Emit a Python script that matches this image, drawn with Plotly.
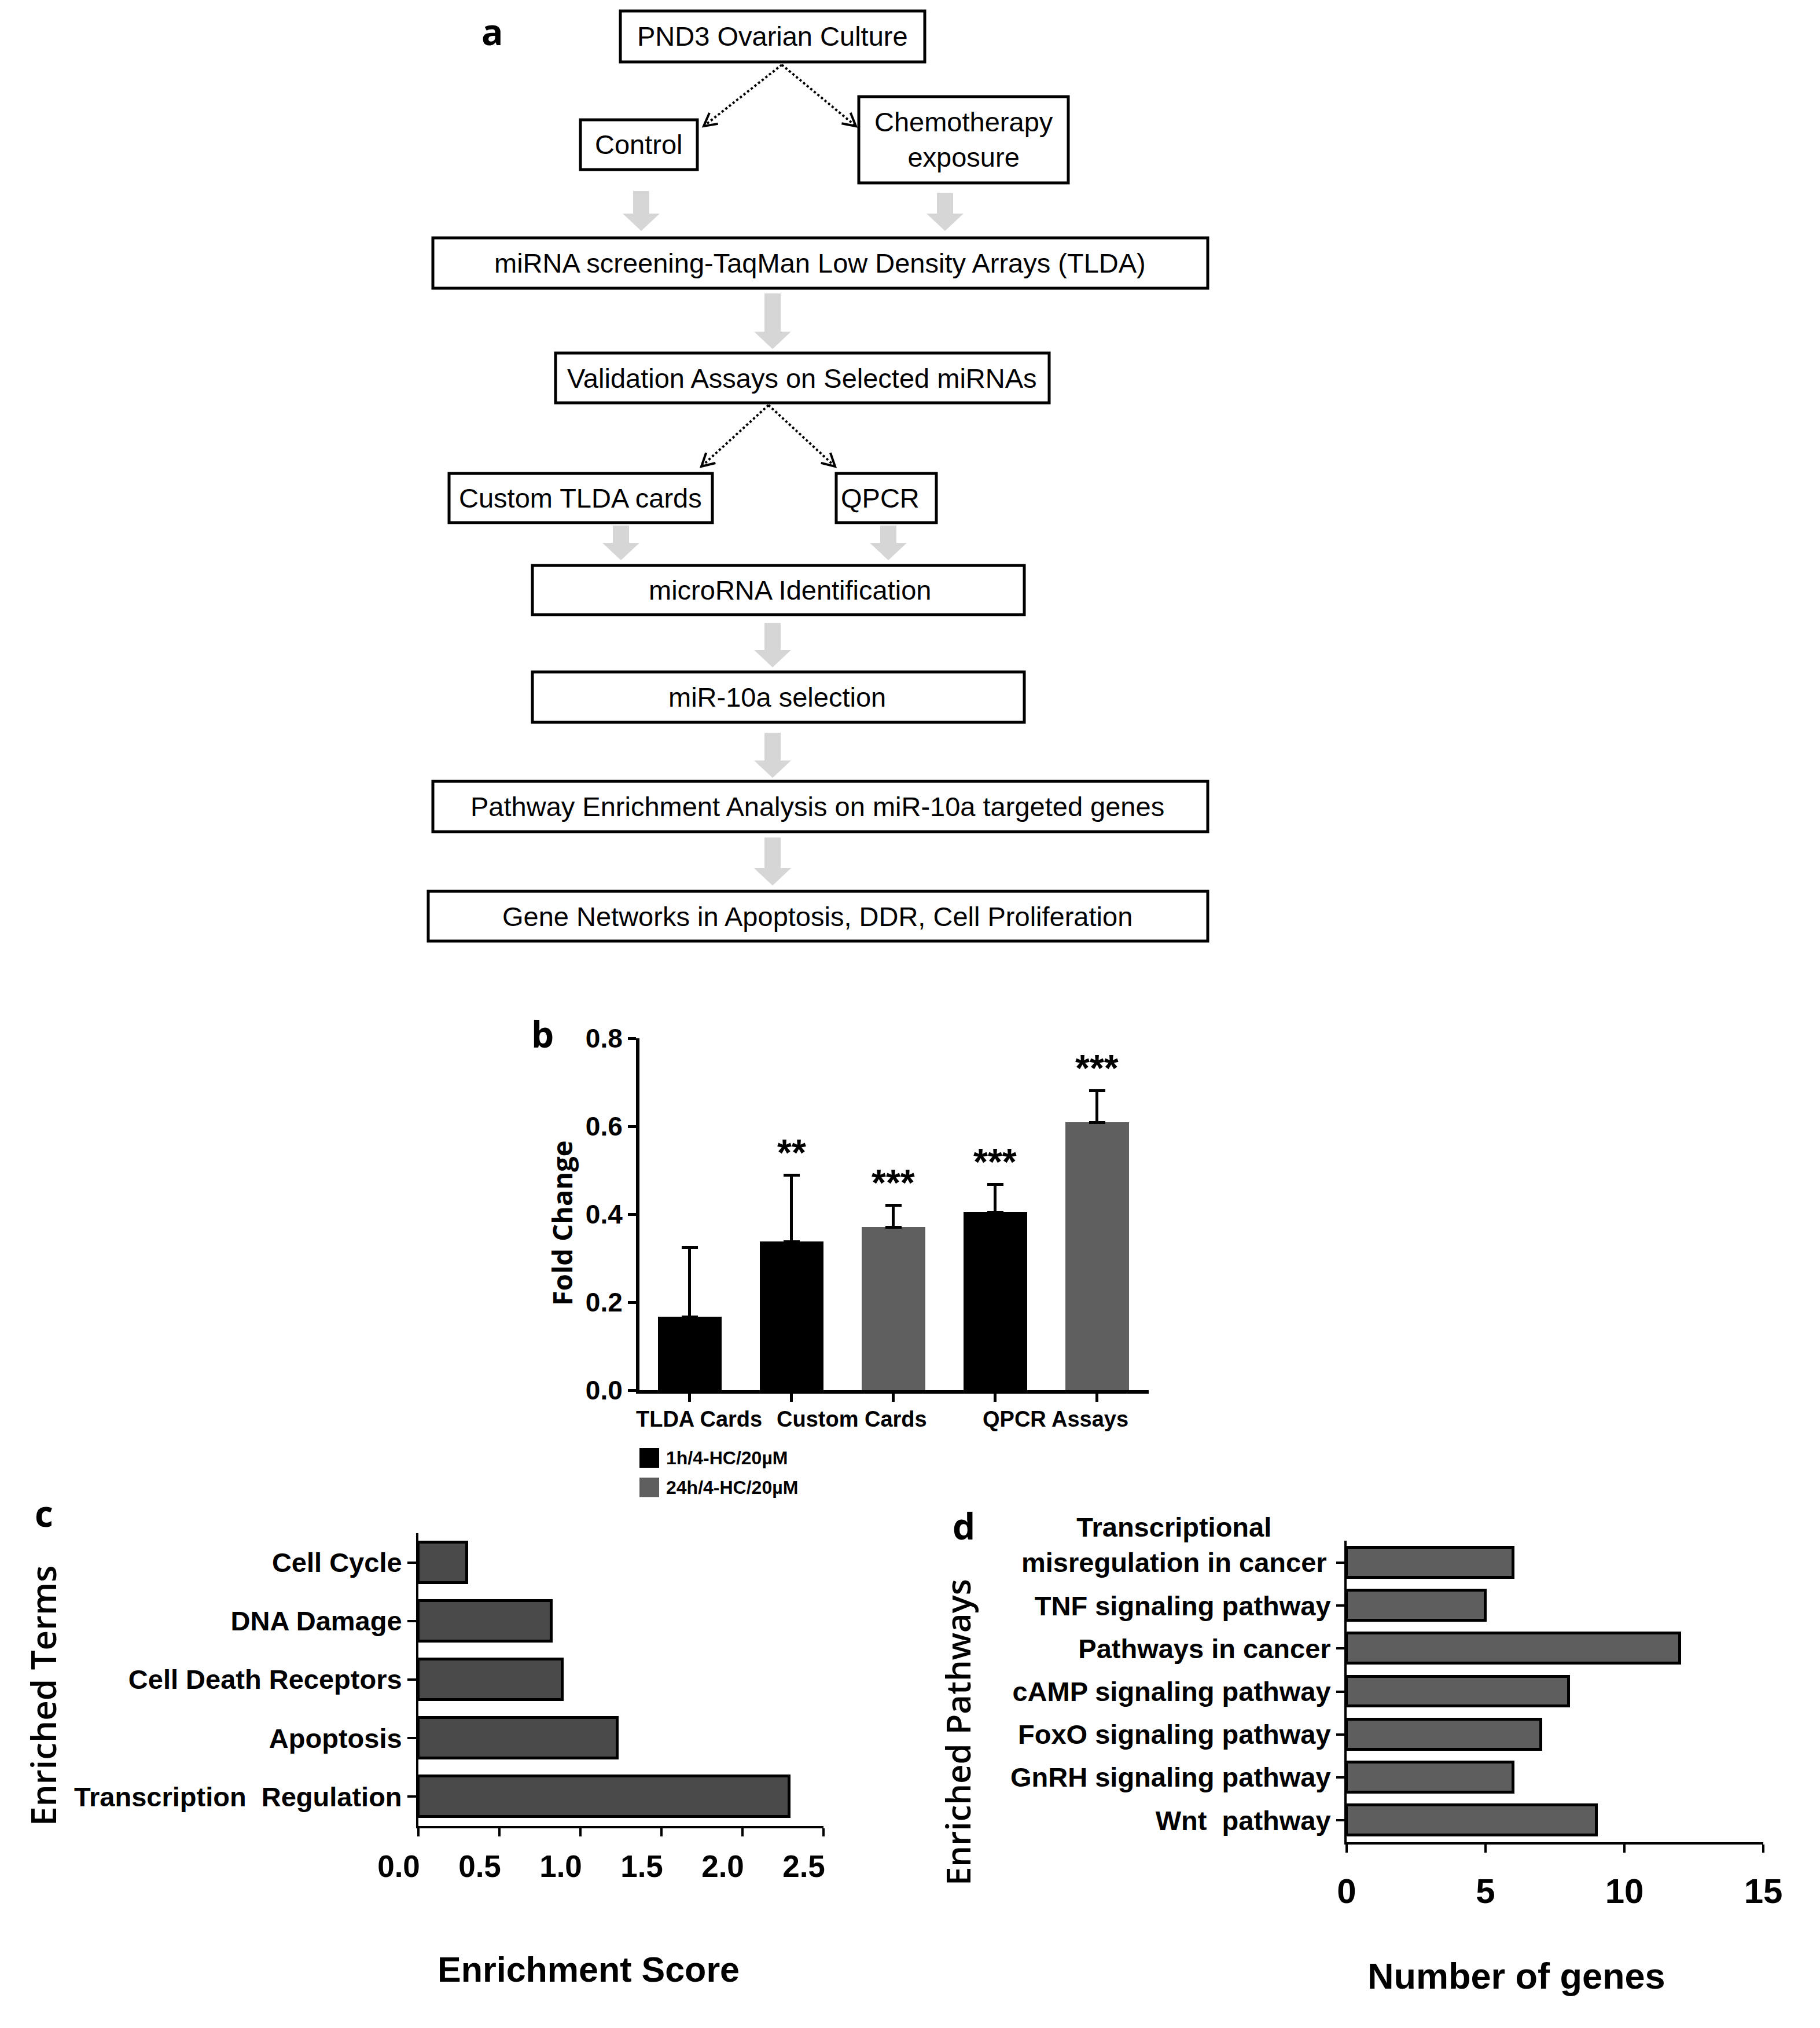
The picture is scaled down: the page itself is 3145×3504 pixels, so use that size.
import math
import plotly.graph_objects as go

W, H = 3145, 3504
OFF = 8  # the page body adds an 8px margin around the figure

# ---------------- data ----------------
b_series_names = ["1h/4-HC/20µM", "24h/4-HC/20µM"]
b_series_colors = ["#000000", "#5f5f5f"]
b_bar_groups = ["TLDA Cards", "Custom Cards", "Custom Cards", "QPCR Assays", "QPCR Assays"]
b_bar_series = [0, 0, 1, 0, 1]
b_fold_change = [0.167, 0.338, 0.371, 0.405, 0.609]
b_error_up = [0.157, 0.151, 0.050, 0.063, 0.072]
b_significance = ["", "**", "***", "***", "***"]
b_y_ticks = [0.0, 0.2, 0.4, 0.6, 0.8]

c_terms = ["Transcription\u00a0 Regulation", "Apoptosis", "Cell Death Receptors", "DNA Damage", "Cell Cycle"]
c_scores = [2.29, 1.23, 0.89, 0.82, 0.30]
c_x_ticks = [0.0, 0.5, 1.0, 1.5, 2.0, 2.5]

d_pathways = ["Wnt\u00a0 pathway", "GnRH signaling pathway", "FoxO signaling pathway",
              "cAMP signaling pathway", "Pathways in cancer", "TNF signaling pathway",
              "Transcriptional<br>misregulation in cancer"]
d_genes = [9, 6, 7, 8, 12, 5, 6]
d_x_ticks = [0, 5, 10, 15]

flow_boxes = [
    "PND3 Ovarian Culture", "Control", "Chemotherapy<br>exposure",
    "miRNA screening-TaqMan Low Density Arrays (TLDA)",
    "Validation Assays on Selected miRNAs", "Custom TLDA cards", "QPCR",
    "microRNA Identification", "miR-10a selection",
    "Pathway Enrichment Analysis on miR-10a targeted genes",
    "Gene Networks in Apoptosis, DDR, Cell Proliferation",
]

# ---------------- helpers ----------------
NARROW = "Liberation Sans Narrow, Liberation Sans, Arial"
SANS = "Liberation Sans, Arial"
OPEN = "Open Sans, Liberation Sans"


def X(px):
    return (px - OFF) / W


def Y(py):
    return 1 - (py - OFF) / H


shapes = []
annotations = []


def text(t, px, py, size, family=NARROW, weight="normal", angle=0, xanchor="center", yanchor="middle", align="center"):
    annotations.append(dict(text=t, x=X(px), y=Y(py), xref="paper", yref="paper", showarrow=False,
                            xanchor=xanchor, yanchor=yanchor, align=align, textangle=angle,
                            font=dict(family=family, size=size, color="black", weight=weight)))


# ---------------- panel a: flowchart ----------------
box_geom = [
    (1072, 19, 1598, 107, 1335),
    (1003, 207, 1205, 293, 1104),
    (1484, 167, 1846, 316, 1665),
    (748, 411, 2087, 498, 1417),
    (960, 610, 1813, 696, 1386),
    (776, 818, 1231, 903, 1003),
    (1445, 818, 1618, 903, 1521),
    (920, 977, 1770, 1062, 1365),
    (920, 1161, 1770, 1248, 1343),
    (748, 1350, 2087, 1437, 1412),
    (740, 1540, 2087, 1626, 1412),
]
for label, (x0, y0, x1, y1, tx) in zip(flow_boxes, box_geom):
    shapes.append(dict(type="rect", xref="paper", yref="paper", x0=X(x0), x1=X(x1), y0=Y(y0), y1=Y(y1),
                       line=dict(color="black", width=5), fillcolor="white", layer="above"))
    text(label, tx, (y0 + y1) / 2, 47)

# gray block arrows
block_arrows = [(1108, 330, 399), (1633, 333, 399), (1335, 507, 603), (1073, 908, 968), (1535, 908, 968),
                (1335, 1076, 1153), (1335, 1266, 1344), (1335, 1447, 1530)]
for cx, y0, y1 in block_arrows:
    sw, hw, hl = 14, 32, 30
    pts = [(cx - sw, y0), (cx + sw, y0), (cx + sw, y1 - hl), (cx + hw, y1 - hl), (cx, y1),
           (cx - hw, y1 - hl), (cx - sw, y1 - hl)]
    path = "M " + " L ".join(f"{X(a):.5f},{Y(b):.5f}" for a, b in pts) + " Z"
    shapes.append(dict(type="path", xref="paper", yref="paper", path=path, fillcolor="#d6d6d6",
                       line=dict(width=0)))

# dotted arrows
dotted = [((1351, 112), (1216, 218)), ((1351, 112), (1479, 218)),
          ((1328, 700), (1212, 806)), ((1328, 700), (1443, 806))]
for (sx, sy), (ex, ey) in dotted:
    shapes.append(dict(type="line", xref="paper", yref="paper", x0=X(sx), y0=Y(sy), x1=X(ex), y1=Y(ey),
                       line=dict(color="black", width=4, dash="dot")))
    L = math.hypot(ex - sx, ey - sy)
    ux, uy = (ex - sx) / L, (ey - sy) / L
    hl, hw = 22, 12
    bx, by = ex - ux * hl, ey - uy * hl
    p1 = (bx - uy * hw, by + ux * hw)
    p2 = (bx + uy * hw, by - ux * hw)
    path = f"M {X(p1[0]):.5f},{Y(p1[1]):.5f} L {X(ex):.5f},{Y(ey):.5f} L {X(p2[0]):.5f},{Y(p2[1]):.5f}"
    shapes.append(dict(type="path", xref="paper", yref="paper", path=path, line=dict(color="black", width=4)))

text("a", 850, 54, 62, family=OPEN, weight="bold")

# ---------------- panel b ----------------
fig = go.Figure()
positions = list(range(len(b_fold_change)))
for s, name in enumerate(b_series_names):
    idx = [i for i in positions if b_bar_series[i] == s]
    fig.add_trace(go.Bar(
        x=idx, y=[b_fold_change[i] for i in idx], name=name, width=0.62,
        marker=dict(color=b_series_colors[s], line=dict(width=0)),
        error_y=dict(type="data", symmetric=False, array=[b_error_up[i] for i in idx],
                     arrayminus=[0] * len(idx), thickness=5, width=14, color="black"),
        xaxis="x", yaxis="y", showlegend=False))

for i in positions:
    if b_significance[i]:
        annotations.append(dict(text=b_significance[i], x=i, y=b_fold_change[i] + b_error_up[i],
                                xref="x", yref="y", showarrow=False, yanchor="middle", yshift=38,
                                font=dict(family=SANS, size=64, weight="bold", color="black")))

groups = []
for g in b_bar_groups:
    if g not in groups:
        groups.append(g)
for g in groups:
    gi = [i for i in positions if b_bar_groups[i] == g]
    annotations.append(dict(text=g, x=sum(gi) / len(gi), y=Y(2452), xref="x", yref="paper",
                            showarrow=False, yanchor="middle", xshift=16,
                            font=dict(family=SANS, size=38, weight="bold", color="black")))

# manual legend
for s, name in enumerate(b_series_names):
    yc = 2519 + s * 51
    shapes.append(dict(type="rect", xref="paper", yref="paper", x0=X(1105), x1=X(1139),
                       y0=Y(yc - 17), y1=Y(yc + 17), fillcolor=b_series_colors[s], line=dict(width=0)))
    text(name, 1149, yc, 32, family=SANS, weight="bold", xanchor="left")

text("Fold Change", 971, 2113, 47, family=OPEN, weight="bold", angle=-90)
text("b", 937, 1786, 62, family=OPEN, weight="bold")

# ---------------- panel c ----------------
fig.add_trace(go.Bar(x=c_scores, y=c_terms, orientation="h", width=0.69,
                     marker=dict(color="#4a4a4a", line=dict(color="black", width=5)),
                     xaxis="x2", yaxis="y2", showlegend=False))
text("Enriched Terms", 74, 2930, 60, family=OPEN, weight=600, angle=-90)
text("Enrichment Score", 1017, 3403, 61, family=SANS, weight="bold")
text("c", 76, 2614, 62, family=OPEN, weight="bold")

# ---------------- panel d ----------------
fig.add_trace(go.Bar(x=d_genes, y=d_pathways, orientation="h", width=0.70,
                     marker=dict(color="#5e5e5e", line=dict(color="black", width=5)),
                     xaxis="x3", yaxis="y3", showlegend=False))
d_ticktext = ["" if "<br>" in p else p for p in d_pathways]
for p in d_pathways:
    if "<br>" in p:
        annotations.append(dict(text=p, x=0, y=p, xref="x3", yref="y3", showarrow=False,
                                xanchor="right", yanchor="middle", align="center", xshift=-32, yshift=31,
                                font=dict(family=NARROW, size=47, weight="bold", color="black")))
text("Enriched Pathways", 1654, 2993, 58, family=OPEN, weight=600, angle=-90)
text("Number of genes", 2620, 3414, 63, family=SANS, weight="bold")
text("d", 1665, 2636, 62, family=OPEN, weight="bold")

axis_common = dict(showline=True, linecolor="black", showgrid=False, zeroline=False, ticks="outside",
                   tickcolor="black", mirror=False, automargin=False)

fig.update_layout(
    width=W, height=H, autosize=False, margin=dict(l=0, r=0, t=0, b=0, pad=0),
    paper_bgcolor="white", plot_bgcolor="white", bargap=0, barmode="overlay",
    shapes=shapes, annotations=annotations,
    xaxis=dict(**axis_common, domain=[X(1105), X(1985)], range=[-0.494, 4.506], anchor="y",
               tickvals=positions, ticktext=[""] * len(positions), ticklen=14, tickwidth=5, linewidth=6),
    yaxis=dict(**axis_common, domain=[Y(2402), Y(1794)], range=[0, 0.8], anchor="x",
               tickvals=b_y_ticks, tickformat=".1f", ticklen=14, tickwidth=5, linewidth=6,
               tickfont=dict(family=SANS, size=46, weight="bold", color="black")),
    xaxis2=dict(**axis_common, domain=[X(723), X(1423)], range=[0, 2.5], anchor="y2",
                tickvals=c_x_ticks, tickformat=".1f", ticklen=14, tickwidth=4, linewidth=4,
                ticklabelstandoff=6, ticklabelshift=-34,
                tickfont=dict(family=SANS, size=53, weight="bold", color="black")),
    yaxis2=dict(**axis_common, domain=[Y(3155), Y(2649)], range=[-0.5, 4.5], anchor="x2",
                type="category", categoryorder="array", categoryarray=c_terms,
                ticklen=15, tickwidth=4, linewidth=4,
                tickfont=dict(family=NARROW, size=47, weight="bold", color="black")),
    xaxis3=dict(**axis_common, domain=[X(2327), X(3047)], range=[0, 15], anchor="y3",
                tickvals=d_x_ticks, ticklen=14, tickwidth=4, linewidth=4,
                ticklabelstandoff=15,
                tickfont=dict(family=SANS, size=60, weight="bold", color="black")),
    yaxis3=dict(**axis_common, domain=[Y(3183), Y(2662)], range=[-0.51, 6.51], anchor="x3",
                type="category", categoryorder="array", categoryarray=d_pathways,
                tickvals=d_pathways, ticktext=d_ticktext,
                ticklen=14, tickwidth=4, linewidth=4,
                tickfont=dict(family=NARROW, size=47, weight="bold", color="black")),
)

fig.write_html("out.html")
